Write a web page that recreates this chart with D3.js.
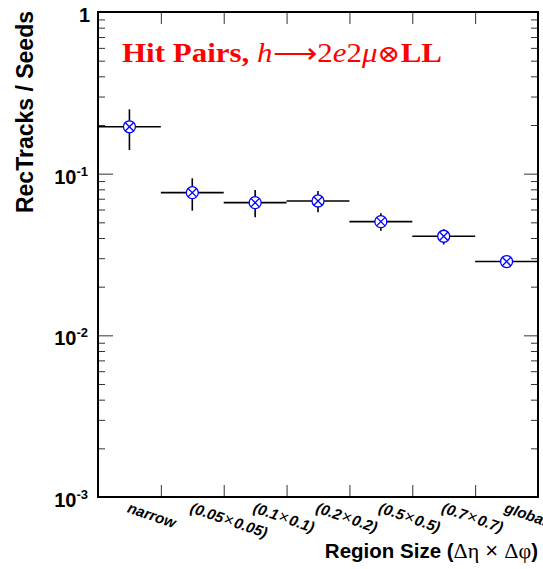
<!DOCTYPE html>
<html>
<head>
<meta charset="utf-8">
<script src="https://cdn.jsdelivr.net/npm/d3@7"></script>
<style>
  html, body { margin: 0; padding: 0; background: #fff; }
  svg { display: block; }
</style>
</head>
<body>
<script>
// ---- data ----
const categories = ["narrow", "(0.05×0.05)", "(0.1×0.1)", "(0.2×0.2)", "(0.5×0.5)", "(0.7×0.7)", "global"];
const values   = [0.195, 0.0763, 0.0662, 0.0678, 0.0505, 0.0410, 0.0286];
const errLow   = [0.140, 0.0590, 0.0537, 0.0577, 0.0444, 0.0365, 0.0279];
const errHigh  = [0.250, 0.0936, 0.0793, 0.0782, 0.0569, 0.0453, 0.0293];
const yMajorTicks = [1e-3, 1e-2, 1e-1, 1];
const yTickLabels = [["10", "-3"], ["10", "-2"], ["10", "-1"], ["1", ""]];
const titleText = "Hit Pairs,";
const yTitle = "RecTracks / Seeds";

const W = 543, H = 569;
const pL = 98, pR = 538, pT = 12, pB = 497;

const svg = d3.select("body").append("svg").attr("width", W).attr("height", H);

const x = d3.scaleBand().domain(categories).range([pL, pR]).paddingInner(0).paddingOuter(0);
const y = d3.scaleLog().domain([1e-3, 1]).range([pB, pT]);

const allTicks = y.ticks();
const minorTicks = allTicks.filter(t => !yMajorTicks.some(m => Math.abs(m - t) / m < 1e-9));

// ---- axes ticks ----
const tickColor = "#333";
function styleAxis(g) {
  g.select(".domain").remove();
  g.selectAll(".tick line").attr("stroke", tickColor).attr("stroke-width", 1);
  g.selectAll(".tick text").remove();
}
// left
svg.append("g").attr("transform", `translate(${pL},0)`)
  .call(d3.axisLeft(y).tickValues(minorTicks).tickSize(-7).tickFormat(""))
  .call(styleAxis);
svg.append("g").attr("transform", `translate(${pL},0)`)
  .call(d3.axisLeft(y).tickValues(yMajorTicks).tickSize(-15).tickFormat(""))
  .call(styleAxis);
// right
svg.append("g").attr("transform", `translate(${pR},0)`)
  .call(d3.axisRight(y).tickValues(minorTicks).tickSize(-7).tickFormat(""))
  .call(styleAxis);
svg.append("g").attr("transform", `translate(${pR},0)`)
  .call(d3.axisRight(y).tickValues(yMajorTicks).tickSize(-14).tickFormat(""))
  .call(styleAxis);

// x ticks at bin edges
const edges = categories.slice(1).map(c => x(c));
const xEdge = d3.scaleLinear().domain([pL, pR]).range([pL, pR]);
svg.append("g").attr("transform", `translate(0,${pB})`)
  .call(d3.axisBottom(xEdge).tickValues(edges).tickSize(-12).tickFormat(""))
  .call(styleAxis);
svg.append("g").attr("transform", `translate(0,${pT})`)
  .call(d3.axisTop(xEdge).tickValues(edges).tickSize(-12).tickFormat(""))
  .call(styleAxis);

// frame
svg.append("rect").attr("x", pL).attr("y", pT)
  .attr("width", pR - pL).attr("height", pB - pT)
  .attr("fill", "none").attr("stroke", "#000").attr("stroke-width", 2);

// y tick labels
const yl = svg.append("g").attr("font-family", "Liberation Sans, Arial, sans-serif").attr("font-weight", "bold");
yMajorTicks.forEach((t, i) => {
  const [base, sup] = yTickLabels[i];
  const tx = yl.append("text").attr("x", sup ? 88 : 90).attr("y", y(t) + 10)
    .attr("text-anchor", "end").attr("font-size", 20);
  tx.append("tspan").text(base);
  if (sup) tx.append("tspan").attr("font-size", 13).attr("dy", -8).text(sup);
});

// x category labels
const xl = svg.append("g").attr("font-family", "Liberation Sans, Arial, sans-serif");
categories.forEach(c => {
  const cx = x(c) + x.bandwidth() / 2 - 3;
  const t = xl.append("text").attr("transform", `translate(${cx},512) rotate(19)`)
    .attr("font-size", 15);
  const parts = c.split("×");
  t.append("tspan").attr("font-weight", "bold").attr("font-style", "italic").text(parts[0]);
  if (parts.length > 1) {
    t.append("tspan").attr("font-weight", "normal").attr("font-size", 17).attr("dx", 1).text("×");
    t.append("tspan").attr("font-weight", "bold").attr("font-style", "italic").attr("dx", 1).text(parts[1]);
  }
});

// axis titles
svg.append("text").attr("transform", `translate(33,${pT - 1}) rotate(-90)`)
  .attr("text-anchor", "end").attr("font-family", "Liberation Sans, Arial, sans-serif")
  .attr("font-weight", "bold").attr("font-size", 23).text(yTitle);

const xt = svg.append("text").attr("x", pR).attr("y", 558).attr("text-anchor", "end")
  .attr("font-family", "Liberation Sans, Arial, sans-serif").attr("font-size", 20.5);
xt.append("tspan").attr("font-weight", "bold").text("Region Size (");
xt.append("tspan").attr("font-family", "Liberation Serif, serif").attr("font-size", 22).text("Δη");
xt.append("tspan").attr("font-size", 22).text(" × ");
xt.append("tspan").attr("font-family", "Liberation Serif, serif").attr("font-size", 22).text("Δφ");
xt.append("tspan").attr("font-weight", "bold").text(")");

// title
const tt = svg.append("text").attr("x", 122).attr("y", 62)
  .attr("font-family", "Liberation Serif, Times New Roman, serif").attr("font-size", 27)
  .attr("fill", "#ff0000").attr("textLength", 320).attr("lengthAdjust", "spacingAndGlyphs");
tt.append("tspan").attr("font-weight", "bold").text(titleText + " ");
tt.append("tspan").attr("font-style", "italic").text("h");
tt.append("tspan").text("⟶2");
tt.append("tspan").attr("font-style", "italic").text("e");
tt.append("tspan").text("2");
tt.append("tspan").attr("font-style", "italic").text("μ");
tt.append("tspan").attr("font-family", "DejaVu Serif, serif").attr("font-size", 24).text("⊗");
tt.append("tspan").attr("font-weight", "bold").text("LL");

// data points
const pts = svg.append("g");
categories.forEach((c, i) => {
  const cx = x(c) + x.bandwidth() / 2;
  const cy = y(values[i]);
  pts.append("line").attr("x1", x(c)).attr("x2", x(c) + x.bandwidth())
    .attr("y1", cy).attr("y2", cy).attr("stroke", "#000").attr("stroke-width", 1.6);
  pts.append("line").attr("x1", cx).attr("x2", cx)
    .attr("y1", y(errHigh[i])).attr("y2", y(errLow[i])).attr("stroke", "#000").attr("stroke-width", 1.6);
  const r = 6;
  pts.append("circle").attr("cx", cx).attr("cy", cy).attr("r", r)
    .attr("fill", "#fff").attr("stroke", "#0000ff").attr("stroke-width", 1.3);
  const d = r * Math.SQRT1_2;
  pts.append("path").attr("d", `M${cx - d},${cy - d}L${cx + d},${cy + d}M${cx - d},${cy + d}L${cx + d},${cy - d}`)
    .attr("stroke", "#0000ff").attr("stroke-width", 1.3);
});
</script>
</body>
</html>
